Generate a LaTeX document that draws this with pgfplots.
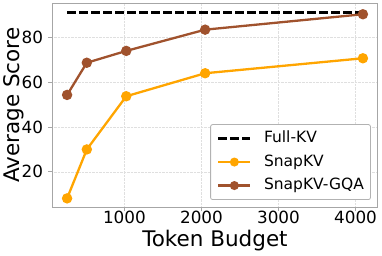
\documentclass[border=0pt]{standalone}
\usepackage{pgfplots}
\pgfplotsset{compat=1.18}
\usepackage{fontspec}
\setmainfont{DejaVu Sans}
\definecolor{snapkv}{RGB}{255,165,0}
\definecolor{gqa}{RGB}{160,82,45}
\begin{document}
\begin{tikzpicture}
\path[use as bounding box] (-52.3pt,-47.7pt) rectangle (329.7pt,207.3pt);
\begin{axis}[
  at={(0,0)}, anchor=south west,
  scale only axis,
  width=325.4pt, height=204pt,
  xmin=64, xmax=4288, ymin=4.1, ymax=95.4,
  xtick={1000,2000,3000,4000},
  ytick={20,40,60,80},
  /pgf/number format/assume math mode=true,
  /pgf/number format/1000 sep={},
  tick label style={font=\fontsize{16.8}{20}\selectfont},
  xticklabel style={anchor=base, inner sep=0pt, yshift=-12pt},
  yticklabel style={anchor=east, inner sep=0pt, xshift=-5pt},
  xlabel={Token Budget}, ylabel={Average Score},
  label style={font=\fontsize{21.5}{24}\selectfont},
  xlabel style={at={(axis description cs:0.5,-0.1931)}, anchor=base, inner sep=0pt},
  ylabel style={at={(axis description cs:-0.1023,0.5)}, anchor=base, inner sep=0pt},
  axis line style={gray!70, line width=0.8pt},
  tick style={gray!70, line width=0.8pt},
  tick align=outside, major tick length=4pt,
  xtick pos=bottom, ytick pos=left,
  grid=major, grid style={gray!25, densely dotted, line width=0.5pt},
  legend style={at={(0.979,0.036)}, anchor=south east,
    font=\fontsize{15.5}{18}\selectfont, draw=gray!60, rounded corners=2pt,
    line width=0.8pt,
    nodes={inner sep=0pt, text height=11.5pt, text depth=3.5pt},
    row sep=8.5pt, column sep=12.5pt, inner xsep=6.6pt, inner ysep=6.5pt},
  legend cell align=left,
  legend image code/.code={\draw[mark repeat=2,mark phase=2,#1,mark size=3.3pt] plot coordinates {(0pt,0pt) (16pt,0pt) (32pt,0pt)};},
]
\addplot[black, line width=2.3pt, dash pattern=on 8.5pt off 3.5pt] coordinates {(256,91.3) (4096,91.3)};
\addlegendentry{Full-KV}
\addplot[snapkv, line width=2.3pt, mark=*, mark size=4pt] coordinates {
(256,8.1) (512,30.0) (1024,53.8) (2048,64.1) (4096,70.8)};
\addlegendentry{SnapKV}
\addplot[gqa, line width=2.3pt, mark=*, mark size=4pt] coordinates {
(256,54.4) (512,68.8) (1024,74.1) (2048,83.6) (4096,90.5)};
\addlegendentry{SnapKV-GQA}
\end{axis}
\end{tikzpicture}
\end{document}
